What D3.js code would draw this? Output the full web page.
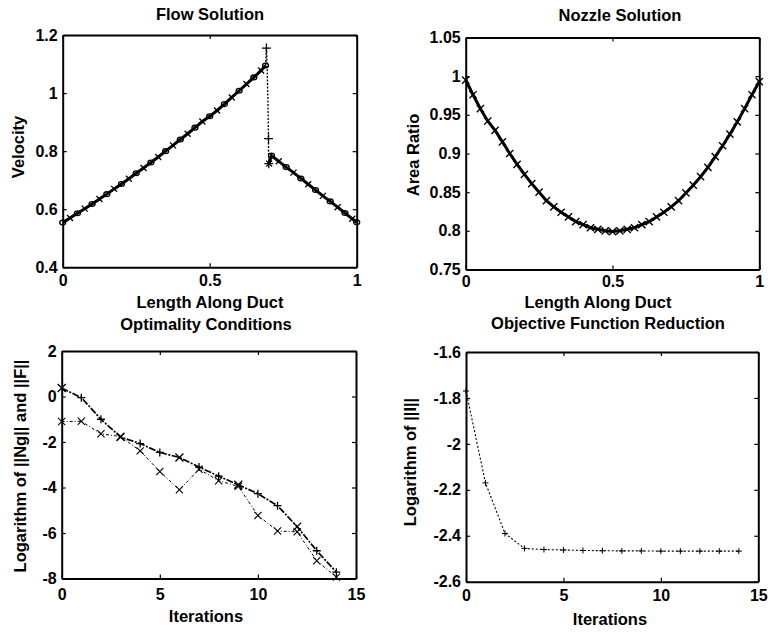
<!DOCTYPE html>
<html><head><meta charset="utf-8">
<script src="https://cdn.jsdelivr.net/npm/d3@7"></script>
<style>
body{margin:0;background:#fff}
svg{display:block}
text{font-family:"Liberation Sans",Arial,Helvetica,sans-serif;font-weight:bold;fill:#000}
</style>
</head><body>
<svg id="c" width="771" height="633"></svg>
<script>
// ---------- Panel 1: Flow Solution ----------
const flowLeftX = [0,0.025,0.05,0.075,0.1,0.125,0.15,0.175,0.2,0.225,0.25,0.275,0.3,0.325,0.35,0.375,0.4,0.425,0.45,0.475,0.5,0.525,0.55,0.575,0.6,0.625,0.65,0.675,0.69];
const flowLeftV = [0.554,0.570,0.586,0.602,0.618,0.635,0.652,0.670,0.687,0.705,0.724,0.742,0.761,0.780,0.800,0.820,0.840,0.860,0.881,0.902,0.920,0.940,0.962,0.985,1.008,1.031,1.054,1.078,1.095];
const shockX = [0.690,0.693,0.695,0.698,0.700,0.700,0.702];
const shockV = [1.095,1.155,1.100,0.980,0.843,0.800,0.757];
const shockMarkX = [0.693,0.700,0.701];
const shockMarkV = [1.155,0.843,0.757];
const flowRightX = [0.702,0.71,0.735,0.76,0.785,0.81,0.835,0.86,0.885,0.91,0.935,0.96,0.985,1.0];
const flowRightV = [0.757,0.785,0.765,0.745,0.726,0.706,0.686,0.666,0.646,0.627,0.607,0.587,0.567,0.555];
const p1XTicks = [0,0.5,1];
const p1XLabels = ["0","0.5","1"];
const p1YTicks = [0.4,0.6,0.8,1,1.2];
const p1YLabels = ["0.4","0.6","0.8","1","1.2"];

// ---------- Panel 2: Nozzle Solution ----------
const nozX = [0,0.025,0.05,0.075,0.1,0.125,0.15,0.175,0.2,0.225,0.25,0.275,0.3,0.325,0.35,0.375,0.4,0.425,0.45,0.475,0.5,0.525,0.55,0.575,0.6,0.625,0.65,0.675,0.7,0.725,0.75,0.775,0.8,0.825,0.85,0.875,0.9,0.925,0.95,0.975,1];
const nozA = [0.995,0.976,0.958,0.942,0.930,0.915,0.900,0.886,0.873,0.861,0.850,0.839,0.831,0.824,0.818,0.812,0.808,0.804,0.802,0.800,0.799,0.800,0.802,0.804,0.808,0.812,0.818,0.824,0.831,0.839,0.849,0.859,0.870,0.882,0.896,0.910,0.925,0.941,0.958,0.976,0.993];
const p2XTicks = [0,0.5,1];
const p2XLabels = ["0","0.5","1"];
const p2YTicks = [0.75,0.8,0.85,0.9,0.95,1,1.05];
const p2YLabels = ["0.75","0.8","0.85","0.9","0.95","1","1.05"];

// ---------- Panel 3: Optimality Conditions ----------
const iters = [0,1,2,3,4,5,6,7,8,9,10,11,12,13,14];
const logNg = [0.37,-0.05,-1.0,-1.78,-2.07,-2.46,-2.68,-3.10,-3.50,-3.88,-4.27,-4.80,-5.72,-6.78,-7.72];
const logF  = [-1.10,-1.09,-1.64,-1.76,-2.39,-3.30,-4.10,-3.20,-3.70,-3.95,-5.23,-5.91,-5.95,-7.22,-7.94];
const p3XTicks = [0,5,10,15];
const p3XLabels = ["0","5","10","15"];
const p3YTicks = [2,0,-2,-4,-6,-8];
const p3YLabels = ["2","0","-2","-4","-6","-8"];

// ---------- Panel 4: Objective Function Reduction ----------
const logI = [-1.77,-2.17,-2.39,-2.455,-2.46,-2.462,-2.464,-2.465,-2.466,-2.466,-2.467,-2.467,-2.467,-2.467,-2.467];
const p4XTicks = [0,5,10,15];
const p4XLabels = ["0","5","10","15"];
const p4YTicks = [-1.6,-1.8,-2,-2.2,-2.4,-2.6];
const p4YLabels = ["-1.6","-1.8","-2","-2.2","-2.4","-2.6"];

const svg = d3.select("#c");
const FS = 16;
const FSL = 16.5;

function plusPath(s){return `M${-s},0H${s}M0,${-s}V${s}`;}
function crossPath(s){return `M${-s},${-s}L${s},${s}M${-s},${s}L${s},${-s}`;}

function panel(o){
  const x = d3.scaleLinear().domain(o.xDomain).range([o.L,o.R]);
  const y = d3.scaleLinear().domain(o.yDomain).range([o.B,o.T]);
  const g = svg.append("g");
  const fmt = (labels,ticks)=> (d)=> labels[ticks.indexOf(d)];
  const styleAxis = (sel)=>{
    sel.select(".domain").attr("stroke","#000").attr("stroke-width",2);
    sel.selectAll(".tick line").attr("stroke","#000").attr("stroke-width",1.2);
    sel.selectAll("text").attr("font-size",FS);
    sel.attr("font-family",null).attr("font-size",null);
  };
  g.append("g").attr("transform",`translate(0,${o.B})`)
    .call(d3.axisBottom(x).tickValues(o.xTicks).tickFormat(fmt(o.xLabels,o.xTicks)).tickSize(-4).tickSizeOuter(0).tickPadding(o.xPad))
    .call(styleAxis);
  g.append("g").attr("transform",`translate(0,${o.T})`)
    .call(d3.axisTop(x).tickValues(o.xTicks).tickFormat("").tickSize(-4).tickSizeOuter(0))
    .call(styleAxis);
  g.append("g").attr("transform",`translate(${o.L},0)`)
    .call(d3.axisLeft(y).tickValues(o.yTicks).tickFormat(fmt(o.yLabels,o.yTicks)).tickSize(-4).tickSizeOuter(0).tickPadding(5))
    .call(styleAxis);
  g.append("g").attr("transform",`translate(${o.R},0)`)
    .call(d3.axisRight(y).tickValues(o.yTicks).tickFormat("").tickSize(-4).tickSizeOuter(0))
    .call(styleAxis);
  g.append("text").attr("x",o.titleX).attr("y",o.titleY).attr("text-anchor","middle").attr("font-size",FSL).text(o.title);
  g.append("text").attr("x",o.xlabX).attr("y",o.xlabY).attr("text-anchor","middle").attr("font-size",FSL).text(o.xlabel);
  g.append("text").attr("transform",`translate(${o.ylabX},${o.ylabY}) rotate(-90)`).attr("text-anchor","middle").attr("font-size",FSL).text(o.ylabel);
  return {x,y,g};
}

function drawLine(p,xs,ys,style){
  const pts = xs.map((d,i)=>[p.x(d),p.y(ys[i])]);
  p.g.append("path").attr("d",d3.line()(pts)).attr("fill","none").attr("stroke","#000")
    .attr("stroke-width",style.w||1.2).attr("stroke-dasharray",style.dash||null);
  return pts;
}
function drawMarks(p,pts,kind,s,w){
  p.g.selectAll(null).data(pts).enter().append("path")
    .attr("transform",d=>`translate(${d[0]},${d[1]})`)
    .attr("d",(d,i)=>{const k = typeof kind==="function"?kind(i):kind; return k==="+"?plusPath(s):k==="x"?crossPath(s):null;})
    .attr("fill","none").attr("stroke","#000").attr("stroke-width",w||1);
}
function drawCircles(p,pts,r){
  p.g.selectAll(null).data(pts).enter().append("ellipse")
    .attr("cx",d=>d[0]).attr("cy",d=>d[1]).attr("rx",r).attr("ry",r*0.8)
    .attr("fill","none").attr("stroke","#000").attr("stroke-width",1.3);
}

// Panel 1
const p1 = panel({L:62.7,R:356.7,T:35,B:267.3,xDomain:[0,1],yDomain:[0.4,1.2],
  xTicks:p1XTicks,xLabels:p1XLabels,yTicks:p1YTicks,yLabels:p1YLabels,xPad:7,
  title:"Flow Solution",titleX:210,titleY:20,xlabel:"Length Along Duct",xlabX:210,xlabY:308,
  ylabel:"Velocity",ylabX:24,ylabY:147});
const l1 = drawLine(p1,flowLeftX,flowLeftV,{w:3});
drawCircles(p1,l1.filter((d,i)=>i%2===0),3);
drawMarks(p1,l1.filter((d,i)=>i%2===1),"x",3,1.3);
drawLine(p1,shockX,shockV,{w:1.3,dash:"2,1.5"});
const r1 = drawLine(p1,flowRightX,flowRightV,{w:3});
drawCircles(p1,r1.filter((d,i)=>i%2===1),3);
drawMarks(p1,r1.filter((d,i)=>i%2===0),"x",3,1.3);
drawMarks(p1,shockMarkX.map((d,i)=>[p1.x(d),p1.y(shockMarkV[i])]),"+",4.5,1.3);

// Panel 2
const p2 = panel({L:465.7,R:759.3,T:37.5,B:269.5,xDomain:[0,1],yDomain:[0.75,1.05],
  xTicks:p2XTicks,xLabels:p2XLabels,yTicks:p2YTicks,yLabels:p2YLabels,xPad:6,
  title:"Nozzle Solution",titleX:620,titleY:21,xlabel:"Length Along Duct",xlabX:598,xlabY:308,
  ylabel:"Area Ratio",ylabX:419,ylabY:155});
const l2 = drawLine(p2,nozX,nozA,{w:3});
drawMarks(p2,l2,"x",3.6,1.4);

// Panel 3
const p3 = panel({L:61.7,R:356,T:351,B:578.5,xDomain:[0,15],yDomain:[-8,2],
  xTicks:p3XTicks,xLabels:p3XLabels,yTicks:p3YTicks,yLabels:p3YLabels,xPad:10,
  title:"Optimality Conditions",titleX:206,titleY:330,xlabel:"Iterations",xlabX:206,xlabY:622,
  ylabel:"Logarithm of ||Ng|| and ||F||",ylabX:26,ylabY:466});
const a3 = drawLine(p3,iters,logNg,{w:1.7,dash:"7,1.5,2,1.5"});
drawMarks(p3,a3,(i)=>i%3===0?"x":"+",4,1.3);
const b3 = drawLine(p3,iters,logF,{w:1,dash:"3,2,1,2"});
drawMarks(p3,b3,"x",3.6,1.1);

// Panel 4
const p4 = panel({L:466,R:758.3,T:352,B:581.7,xDomain:[0,15],yDomain:[-2.6,-1.6],
  xTicks:p4XTicks,xLabels:p4XLabels,yTicks:p4YTicks,yLabels:p4YLabels,xPad:8,
  title:"Objective Function Reduction",titleX:608,titleY:329,xlabel:"Iterations",xlabX:610,xlabY:625,
  ylabel:"Logarithm of ||I||",ylabX:416,ylabY:462});
const l4 = drawLine(p4,iters,logI,{w:1.1,dash:"2,2"});
drawMarks(p4,l4,"+",3,1);
</script>
</body></html>
